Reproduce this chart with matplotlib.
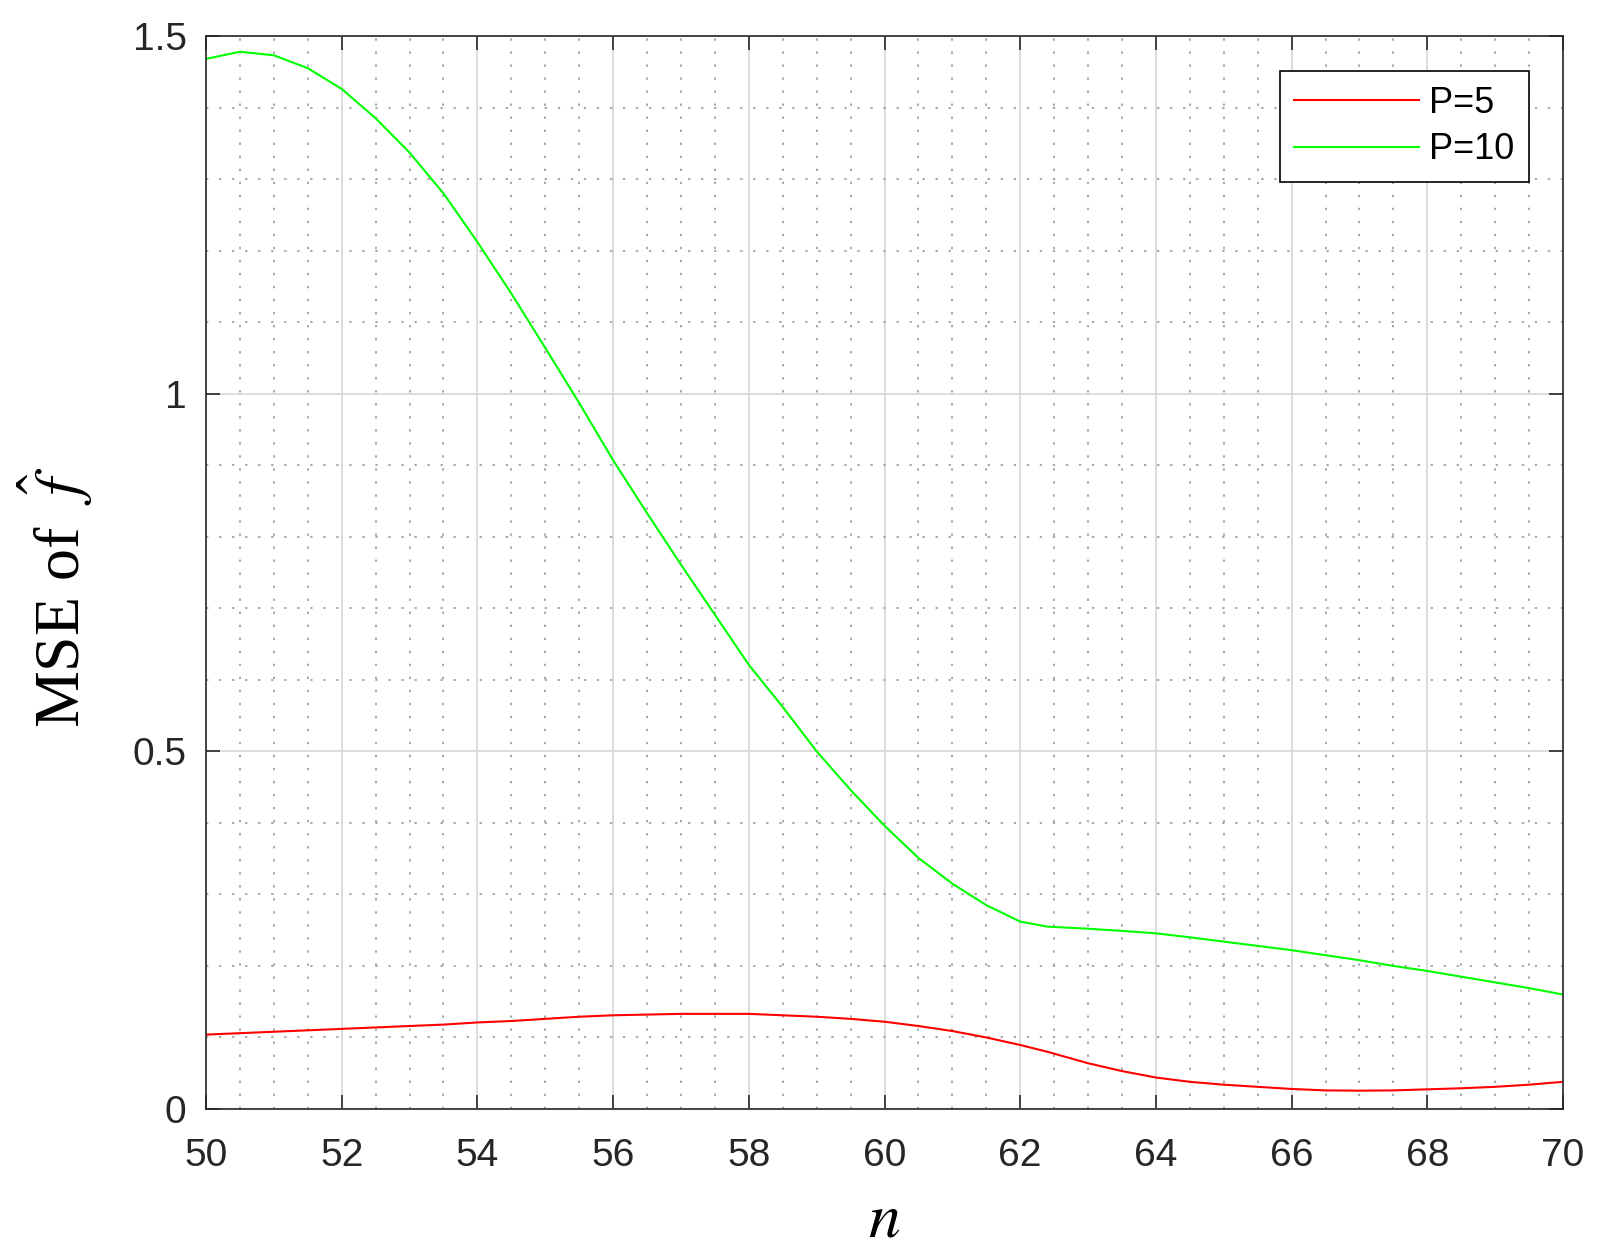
import numpy as np
import matplotlib
matplotlib.use('Agg')
import matplotlib.pyplot as plt
from matplotlib.ticker import MultipleLocator

# datos
n_vals = [50.0, 50.5, 51.0, 51.5, 52.0, 52.5, 53.0, 53.5, 54.0, 54.5,
          55.0, 55.5, 56.0, 56.5, 57.0, 57.5, 58.0, 58.5, 59.0, 59.5,
          60.0, 60.5, 61.0, 61.5, 62.0, 62.4, 63.0, 63.5, 64.0, 64.5,
          65.0, 65.5, 66.0, 66.5, 67.0, 67.5, 68.0, 68.5, 69.0, 69.5, 70.0]

mse_p5 = [0.104, 0.106, 0.108, 0.110, 0.112, 0.114, 0.116, 0.118, 0.121, 0.123,
          0.126, 0.129, 0.131, 0.132, 0.133, 0.133, 0.133, 0.131, 0.129, 0.126,
          0.122, 0.116, 0.109, 0.100, 0.0895, 0.080, 0.064, 0.053, 0.044, 0.038,
          0.034, 0.031, 0.028, 0.026, 0.0256, 0.026, 0.0275, 0.029, 0.031, 0.034, 0.038]

mse_p10 = [1.468, 1.478, 1.473, 1.455, 1.426, 1.385, 1.337, 1.280, 1.212, 1.140,
           1.064, 0.987, 0.907, 0.833, 0.761, 0.691, 0.621, 0.562, 0.500, 0.446,
           0.396, 0.351, 0.315, 0.285, 0.262, 0.255, 0.252, 0.249, 0.2456, 0.240,
           0.234, 0.228, 0.222, 0.215, 0.208, 0.200, 0.193, 0.185, 0.177, 0.169, 0.160]

labels = ["P=5", "P=10"]

plt.rcParams['font.family'] = ['Liberation Sans', 'DejaVu Sans']
plt.rcParams['mathtext.fontset'] = 'stix'

fig = plt.figure(figsize=(16.06, 12.6), dpi=100)
ax = fig.add_axes([206 / 1606, 1 - 1109 / 1260, 1357 / 1606, 1073 / 1260])

ax.plot(n_vals, mse_p5, color='#ff0000', lw=1.5, label=labels[0])
ax.plot(n_vals, mse_p10, color='#00ff00', lw=1.5, label=labels[1])

ax.set_xlim(50, 70)
ax.set_ylim(0, 1.5)
ax.xaxis.set_major_locator(MultipleLocator(2))
ax.xaxis.set_minor_locator(MultipleLocator(0.5))
ax.yaxis.set_major_locator(MultipleLocator(0.5))
ax.yaxis.set_minor_locator(MultipleLocator(0.1))
ax.set_yticks([0, 0.5, 1, 1.5])
ax.set_yticklabels(['0', '0.5', '1', '1.5'])

# rejilla estilo MATLAB
ax.grid(True, which='major', color='#d5d5d5', lw=1.2, ls='-')
ax.grid(True, which='minor', color='#a8a8a8', lw=1.4, ls=(0, (1.2, 5.5)))
ax.set_axisbelow(True)

ax.tick_params(which='major', direction='in', length=10, width=1.2,
               top=True, right=True, labelsize=28, colors='#262626')
ax.tick_params(axis='x', which='major', pad=21)
ax.tick_params(axis='y', which='major', pad=14)
ax.tick_params(which='minor', length=0, top=True, right=True)
for s in ax.spines.values():
    s.set_color('#262626')
    s.set_linewidth(1.2)

ax.set_xlabel(r'$n$', fontsize=46, va='baseline')
ax.set_ylabel(r'MSE of  $\hat{f}$', fontsize=46, family='Liberation Serif',
              va='baseline', ha='center')
ax.xaxis.set_label_coords(0.5, -0.119)
ax.yaxis.set_label_coords(-0.093, 0.477)

leg = ax.legend(loc='upper right', bbox_to_anchor=(0.975, 0.967), borderaxespad=0,
                fontsize=26, fancybox=False, framealpha=1, edgecolor='#000000',
                handlelength=3.45, handletextpad=0.3, labelspacing=0.32, borderpad=0.4)
leg.get_frame().set_linewidth(1.2)

fig.savefig('out.png', dpi=100, facecolor='white')
